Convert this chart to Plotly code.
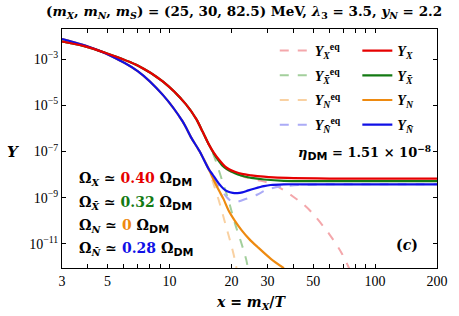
import plotly.graph_objects as go

# ---------------- data ----------------
x_red = [3, 3.85, 4.9, 7.0, 9.3, 12.0, 13.5, 14.5, 15.5, 16.5, 17.5, 18.6, 19.6, 20.8, 22.5, 25, 28.8, 32, 40, 60, 200]
Y_X = [5.75e-3, 3.63e-3, 1.82e-3, 5.25e-4, 1.05e-4, 1.12e-5, 2.51e-6, 7.08e-7, 2.09e-7, 8.32e-8, 4.17e-8,
       2.29e-8, 1.66e-8, 1.32e-8, 1.07e-8, 9.33e-9, 8.13e-9, 7.59e-9, 7.08e-9, 6.76e-9, 6.76e-9]

x_green = [3, 3.85, 4.9, 7.0, 9.3, 12.0, 13.5, 14.5, 15.5, 16.5, 17.5, 18.0, 19.0, 20.1, 21.5, 23.2, 25, 28.8, 36, 50, 200]
Y_Xbar = [5.75e-3, 3.63e-3, 1.82e-3, 5.25e-4, 1.05e-4, 1.12e-5, 2.51e-6, 7.08e-7, 2.09e-7, 7.59e-8, 3.55e-8,
          2.57e-8, 1.74e-8, 1.32e-8, 1.02e-8, 8.32e-9, 7.24e-9, 6.17e-9, 5.37e-9, 5.25e-9, 5.25e-9]

x_blue = [3, 3.85, 4.9, 7.0, 9.3, 11.6, 12.75, 13.96, 15.56, 16.15, 17.35, 18.3, 19.2, 20.3, 21.4, 22.6, 24.2,
          26.0, 28.8, 31.0, 36, 50, 200]
Y_Nbar = [7.41e-3, 3.98e-3, 1.74e-3, 3.02e-4, 2.75e-5, 1.95e-6, 3.98e-7, 1.07e-7, 1.66e-8, 1.05e-8, 4.17e-9,
          2.45e-9, 1.86e-9, 1.62e-9, 1.58e-9, 1.70e-9, 2.09e-9, 2.51e-9, 3.16e-9, 3.55e-9, 3.80e-9, 3.80e-9, 3.80e-9]

x_orange = [3, 3.85, 4.9, 7.0, 9.3, 11.6, 12.75, 13.96, 15.56, 16.15, 17.35, 18.3, 19.35, 20.8, 22.4, 24.5, 26.8, 31, 36]
Y_N = [7.41e-3, 3.98e-3, 1.74e-3, 3.02e-4, 2.75e-5, 1.95e-6, 3.98e-7, 1.07e-7, 1.66e-8, 7.94e-9, 2.14e-9,
       8.91e-10, 2.88e-10, 1.0e-10, 3.98e-11, 1.58e-11, 7.41e-12, 2.34e-12, 8.91e-13]

x_eqX = [3, 3.85, 4.9, 7.0, 9.3, 12.0, 13.5, 14.5, 15.5, 16.5, 17.5, 18.6, 20.1, 23.2, 27, 31, 35.9, 40, 45, 49.7,
         59.6, 68.9, 75]
Y_X_eq = [5.75e-3, 3.63e-3, 1.82e-3, 5.25e-4, 1.05e-4, 1.12e-5, 2.51e-6, 7.08e-7, 2.09e-7, 8.32e-8, 3.80e-8,
          2.0e-8, 1.26e-8, 7.94e-9, 5.75e-9, 4.17e-9, 2.14e-9, 1.10e-9, 5.01e-10, 2.09e-10, 2.82e-11, 3.89e-12, 8.32e-13]

x_eqXb = [3, 3.85, 4.9, 7.0, 9.3, 12.0, 13.5, 14.5, 15.5, 16.1, 16.74, 18.01, 19.35, 20.81, 22.39, 23.64, 24.1]
Y_Xbar_eq = [5.75e-3, 3.63e-3, 1.82e-3, 5.25e-4, 1.05e-4, 1.12e-5, 2.51e-6, 7.08e-7, 2.09e-7, 1.05e-7, 4.27e-8,
             5.75e-9, 7.94e-10, 7.76e-11, 1.05e-11, 2.0e-12, 8.32e-13]

x_eqN = [3, 3.85, 4.9, 7.0, 9.3, 11.6, 12.75, 13.96, 15.56, 16.15, 17.35, 18.67, 20.08, 20.81, 21.2]
Y_N_eq = [7.41e-3, 3.98e-3, 1.74e-3, 3.02e-4, 2.75e-5, 1.95e-6, 3.98e-7, 1.07e-7, 1.48e-8, 5.75e-9, 7.94e-10,
          7.76e-11, 7.41e-12, 2.0e-12, 8.32e-13]

x_eqNb = [3, 3.85, 4.9, 7.0, 9.3, 11.6, 12.75, 13.96, 15.56, 16.15, 17.0, 18.0, 19.0, 20.1, 21.2, 22.4, 24.5, 26.8,
          29, 31, 36, 45, 60, 200]
Y_Nbar_eq = [7.41e-3, 3.98e-3, 1.74e-3, 3.02e-4, 2.75e-5, 1.95e-6, 3.98e-7, 1.07e-7, 1.66e-8, 8.13e-9, 3.98e-9,
             2.0e-9, 1.05e-9, 6.76e-10, 6.46e-10, 7.59e-10, 1.0e-9, 1.38e-9, 2.0e-9, 2.51e-9, 3.16e-9, 3.63e-9,
             3.80e-9, 3.80e-9]

x_tickvals = [3, 5, 10, 20, 30, 50, 100, 200]
x_ticktext = ["3", "5", "10", "20", "30", "50", "100", "200"]
x_minor_ticks = [4, 6, 7, 8, 9, 40, 60, 70, 80, 90]
y_tickvals = [1e-3, 1e-5, 1e-7, 1e-9, 1e-11]
y_ticktext = ["10<sup>\u22123</sup>", "10<sup>\u22125</sup>", "10<sup>\u22127</sup>", "10<sup>\u22129</sup>",
              "10<sup>\u221211</sup>"]

# ---------------- styling ----------------
SERIF = "Liberation Serif"
MATH = "DejaVu Serif"
SANS = "DejaVu Sans"
RED, GREEN, ORANGE, BLUE = "#e60000", "#137a13", "#ee8a10", "#1010e6"
RED_L, GREEN_L, ORANGE_L, BLUE_L = "#f4a7ab", "#a3cf9c", "#f9d1a2", "#ababf6"

XB = "X\u0304"
NB = "N\u0304"

fig = go.Figure()

eq_traces = [
    (x_eqX, Y_X_eq, RED_L, "<b><i>Y</i><sub><i>X</i></sub><sup>eq</sup></b>"),
    (x_eqXb, Y_Xbar_eq, GREEN_L, "<b><i>Y</i><sub><i>%s</i></sub><sup>eq</sup></b>" % XB),
    (x_eqN, Y_N_eq, ORANGE_L, "<b><i>Y</i><sub><i>N</i></sub><sup>eq</sup></b>"),
    (x_eqNb, Y_Nbar_eq, BLUE_L, "<b><i>Y</i><sub><i>%s</i></sub><sup>eq</sup></b>" % NB),
]
for i, (xs, ys, col, name) in enumerate(eq_traces):
    fig.add_trace(go.Scatter(x=xs, y=ys, mode="lines", name=name, legend="legend",
                             legendgroup="eq%d" % i, legendrank=i + 1,
                             line=dict(color=col, width=2, dash="dash", shape="spline", smoothing=0.8)))

solid_traces = [
    (x_orange, Y_N, ORANGE, "<b><i>Y</i><sub><i>N</i></sub></b>", 3),
    (x_green, Y_Xbar, GREEN, "<b><i>Y</i><sub><i>%s</i></sub></b>" % XB, 2),
    (x_blue, Y_Nbar, BLUE, "<b><i>Y</i><sub><i>%s</i></sub></b>" % NB, 4),
    (x_red, Y_X, RED, "<b><i>Y</i><sub><i>X</i></sub></b>", 1),
]
for xs, ys, col, name, rank in solid_traces:
    fig.add_trace(go.Scatter(x=xs, y=ys, mode="lines", name=name, legend="legend2",
                             legendgroup="s%d" % rank, legendrank=rank,
                             line=dict(color=col, width=2.2, shape="spline", smoothing=0.8)))

axis_common = dict(type="log", showgrid=False, zeroline=False, showline=True, linecolor="black", linewidth=1,
                   mirror="ticks", ticks="inside", ticklen=4, tickcolor="black",
                   tickfont=dict(family=SERIF, size=14, color="black"))

fig.update_xaxes(range=[0.4771, 2.3010], tickmode="array", tickvals=x_tickvals, ticktext=x_ticktext,
                 minor=dict(tickmode="array", tickvals=x_minor_ticks, ticks="inside", ticklen=4,
                            tickcolor="black", showgrid=False),
                 **axis_common)
fig.update_yaxes(range=[-12.04, -1.70], tickmode="array", tickvals=y_tickvals, ticktext=y_ticktext, **axis_common)

legend_common = dict(bgcolor="rgba(0,0,0,0)", borderwidth=0, tracegroupgap=3.5,
                     font=dict(family=SERIF, size=14, color="black"), yanchor="top", xanchor="left",
                     itemwidth=30, traceorder="grouped")
ann = []


def add_text(text, x, y, size=14, xanchor="left", yanchor="middle", family=MATH):
    ann.append(dict(text=text, x=x, y=y, xref="paper", yref="paper", showarrow=False,
                    xanchor=xanchor, yanchor=yanchor, font=dict(family=family, size=size, color="black")))


def px2paper(px, py):
    return (px - 62) / 386.0, (268 - py) / 239.0


DM = "<span style='font-family:%s;font-size:11px'>DM</span>" % SANS
rows = [
    ("<i>X</i>", "0.40", RED, 180),
    ("<i>%s</i>" % XB, "0.32", GREEN, 203),
    ("<i>N</i>", "0", ORANGE, 226),
    ("<i>%s</i>" % NB, "0.28", BLUE, 249),
]
for sub, val, col, py in rows:
    xx, yy = px2paper(77, py)
    add_text("<b>\u03a9<sub>%s</sub> \u2243 <span style='color:%s'>%s</span> \u03a9<sub>%s</sub></b>" % (sub, col, val, DM),
             xx, yy, size=14)

xx, yy = px2paper(303, 153)
add_text("<b><i>\u03b7</i><sub>%s</sub> = 1.51 \u00d7 10<sup>\u22128</sup></b>" % DM, xx, yy, size=13)
xx, yy = px2paper(417, 245)
add_text("<b>(<i>c</i>)</b>", xx, yy, size=14, xanchor="center")
xx, yy = px2paper(249, 12)
add_text("<b>(<i>m<sub>X</sub></i>, <i>m<sub>N</sub></i>, <i>m<sub>S</sub></i>) = (25, 30, 82.5) MeV, "
         "<i>\u03bb</i><sub>3</sub> = 3.5, <i>y<sub>N</sub></i> = 2.2</b>", xx, yy, size=13.5, xanchor="center")
xx, yy = px2paper(257, 303)
add_text("<b><i>x</i> = <i>m<sub>X</sub></i>/<i>T</i></b>", xx, yy, size=14, xanchor="center")
xx, yy = px2paper(12, 152)
add_text("<b><i>Y</i></b>", xx, yy, size=15, xanchor="center")

lx, ly = px2paper(281, 35)
l2x, _ = px2paper(366, 35)
fig.update_layout(
    width=459, height=316,
    margin=dict(l=62, r=11, t=29, b=48),
    paper_bgcolor="white", plot_bgcolor="white",
    showlegend=True,
    legend=dict(x=lx, y=ly, **legend_common),
    legend2=dict(x=l2x, y=ly, **legend_common),
    annotations=ann,
)

fig.write_html("out.html", config={"displayModeBar": False},
               post_script="document.body.style.margin='0px';document.body.style.overflow='hidden';")
